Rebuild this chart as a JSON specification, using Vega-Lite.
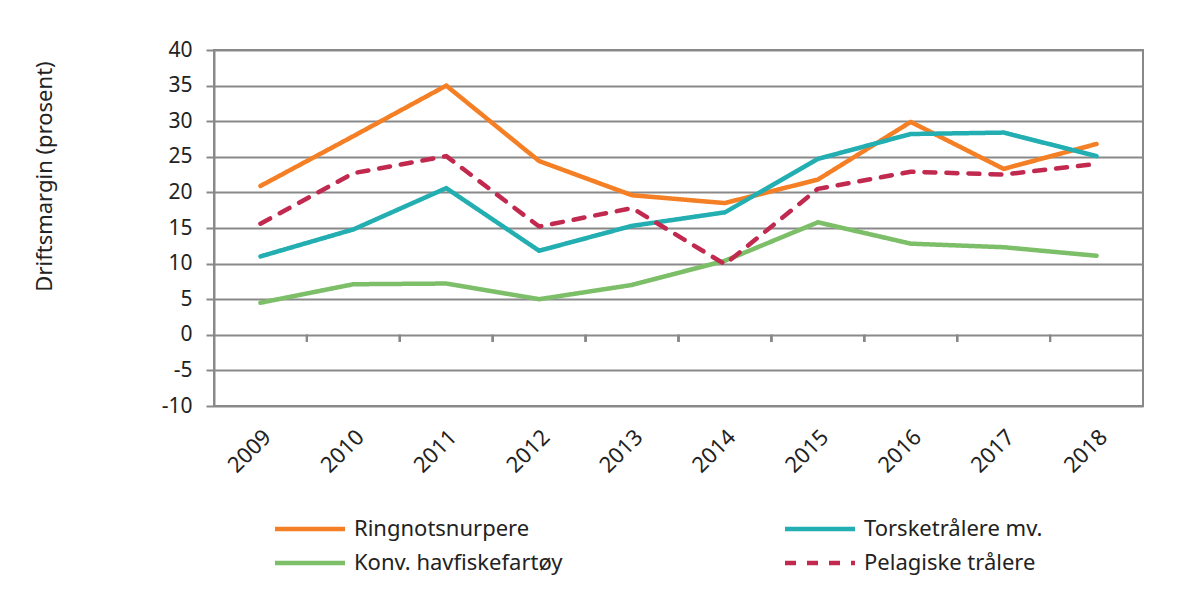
{
  "$schema": "https://vega.github.io/schema/vega-lite/v6.json",
  "autosize": {"type": "none"},
  "padding": {"left": 214, "top": 50, "right": 59, "bottom": 186},
  "width": 929,
  "height": 356,
  "background": "white",
  "config": {
    "font": "Noto Sans",
    "view": {"stroke": "#898989", "strokeWidth": 2},
    "axisY": {
      "grid": true,
      "gridColor": "#898989",
      "gridWidth": 2,
      "gridOpacity": 1,
      "labelOverlap": false,
      "labelFontSize": 21,
      "labelColor": "#222222",
      "labelPadding": 14,
      "tickSize": 8,
      "tickColor": "#898989",
      "tickWidth": 2,
      "domainColor": "#898989",
      "domainWidth": 2,
      "titleFontSize": 22,
      "titleFontWeight": "normal",
      "titleColor": "#222222"
    }
  },
  "data": {
    "values": [
      {"year": "2009", "series": "Ringnotsnurpere", "value": 20.9},
      {"year": "2010", "series": "Ringnotsnurpere", "value": 27.9},
      {"year": "2011", "series": "Ringnotsnurpere", "value": 35.0},
      {"year": "2012", "series": "Ringnotsnurpere", "value": 24.4},
      {"year": "2013", "series": "Ringnotsnurpere", "value": 19.6},
      {"year": "2014", "series": "Ringnotsnurpere", "value": 18.5},
      {"year": "2015", "series": "Ringnotsnurpere", "value": 21.8},
      {"year": "2016", "series": "Ringnotsnurpere", "value": 29.9},
      {"year": "2017", "series": "Ringnotsnurpere", "value": 23.3},
      {"year": "2018", "series": "Ringnotsnurpere", "value": 26.8},
      {"year": "2009", "series": "Torsketrålere mv.", "value": 11.0},
      {"year": "2010", "series": "Torsketrålere mv.", "value": 14.8},
      {"year": "2011", "series": "Torsketrålere mv.", "value": 20.6},
      {"year": "2012", "series": "Torsketrålere mv.", "value": 11.8},
      {"year": "2013", "series": "Torsketrålere mv.", "value": 15.3},
      {"year": "2014", "series": "Torsketrålere mv.", "value": 17.2},
      {"year": "2015", "series": "Torsketrålere mv.", "value": 24.7},
      {"year": "2016", "series": "Torsketrålere mv.", "value": 28.2},
      {"year": "2017", "series": "Torsketrålere mv.", "value": 28.4},
      {"year": "2018", "series": "Torsketrålere mv.", "value": 25.1},
      {"year": "2009", "series": "Konv. havfiskefartøy", "value": 4.5},
      {"year": "2010", "series": "Konv. havfiskefartøy", "value": 7.1},
      {"year": "2011", "series": "Konv. havfiskefartøy", "value": 7.2},
      {"year": "2012", "series": "Konv. havfiskefartøy", "value": 5.0},
      {"year": "2013", "series": "Konv. havfiskefartøy", "value": 7.0},
      {"year": "2014", "series": "Konv. havfiskefartøy", "value": 10.4},
      {"year": "2015", "series": "Konv. havfiskefartøy", "value": 15.8},
      {"year": "2016", "series": "Konv. havfiskefartøy", "value": 12.8},
      {"year": "2017", "series": "Konv. havfiskefartøy", "value": 12.3},
      {"year": "2018", "series": "Konv. havfiskefartøy", "value": 11.1},
      {"year": "2009", "series": "Pelagiske trålere", "value": 15.6},
      {"year": "2010", "series": "Pelagiske trålere", "value": 22.7},
      {"year": "2011", "series": "Pelagiske trålere", "value": 25.1},
      {"year": "2012", "series": "Pelagiske trålere", "value": 15.2},
      {"year": "2013", "series": "Pelagiske trålere", "value": 17.8},
      {"year": "2014", "series": "Pelagiske trålere", "value": 9.9},
      {"year": "2015", "series": "Pelagiske trålere", "value": 20.5},
      {"year": "2016", "series": "Pelagiske trålere", "value": 22.9},
      {"year": "2017", "series": "Pelagiske trålere", "value": 22.5},
      {"year": "2018", "series": "Pelagiske trålere", "value": 24.0}
    ]
  },
  "encoding": {
    "x": {
      "field": "year",
      "type": "ordinal",
      "scale": {"type": "band", "paddingInner": 0, "paddingOuter": 0},
      "axis": {
        "title": null,
        "labelAngle": -45,
        "labelFontSize": 22,
        "labelColor": "#222222",
        "labelPadding": 20,
        "ticks": false,
        "domain": false,
        "grid": false
      }
    },
    "y": {
      "field": "value",
      "type": "quantitative",
      "scale": {"domain": [-10, 40], "nice": false, "zero": false},
      "axis": {
        "title": "Driftsmargin (prosent)",
        "titlePadding": 105,
        "titleY": 126,
        "grid": true,
        "values": [-10, -5, 0, 5, 10, 15, 20, 25, 30, 35, 40],
        "labelExpr": "'' + datum.value"
      }
    }
  },
  "layer": [
    {
      "mark": {"type": "line", "strokeWidth": 4.5, "strokeCap": "round", "strokeJoin": "round"},
      "encoding": {
        "color": {
          "field": "series",
          "type": "nominal",
          "scale": {
            "domain": ["Ringnotsnurpere", "Torsketrålere mv.", "Konv. havfiskefartøy", "Pelagiske trålere"],
            "range": ["#F57F25", "#23AEB2", "#7DBF68", "#C1294F"]
          },
          "legend": {
            "title": null,
            "orient": "none",
            "legendX": 76,
            "legendY": 459,
            "direction": "horizontal",
            "columns": 2,
            "columnPadding": 213,
            "rowPadding": 3,
            "symbolType": "M-2,0H2",
            "symbolSize": 1225,
            "symbolStrokeWidth": 4.5,
            "labelFontSize": 22,
            "labelColor": "#222222",
            "labelOffset": 24,
            "labelLimit": 400
          }
        },
        "strokeDash": {
          "field": "series",
          "type": "nominal",
          "scale": {
            "domain": ["Ringnotsnurpere", "Torsketrålere mv.", "Konv. havfiskefartøy", "Pelagiske trålere"],
            "range": [[1, 0], [1, 0], [1, 0], [11, 11]]
          },
          "legend": null
        }
      }
    },
    {
      "mark": {"type": "rule", "color": "#898989", "strokeWidth": 2},
      "encoding": {
        "x": {"field": "year", "type": "ordinal", "bandPosition": 0},
        "y": {"datum": 0},
        "y2": {"datum": -1}
      }
    }
  ]
}
